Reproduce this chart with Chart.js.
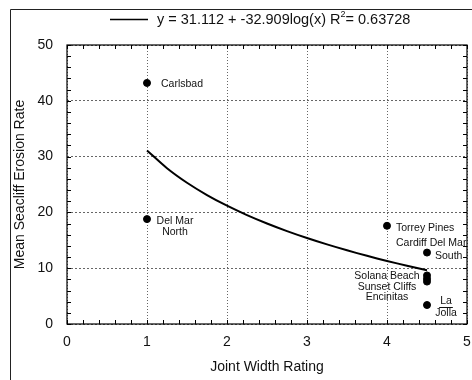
<!DOCTYPE html>
<html>
<head>
<meta charset="utf-8">
<script src="https://cdn.jsdelivr.net/npm/chart.js@4.4.1/dist/chart.umd.min.js"></script>
<style>
  html, body { margin: 0; padding: 0; background: #fff; }
  canvas { display: block; }
</style>
</head>
<body>
<canvas id="myChart" width="472" height="380"></canvas>
<script>
// sites and their measured values
var siteNames   = ['Carlsbad', 'Del Mar North', 'Torrey Pines', 'Cardiff Del Mar South',
                   'Solana Beach', 'Sunset Cliffs', 'Encinitas', 'La Jolla'];
var jointWidth  = [1, 1, 4, 4.5, 4.5, 4.5, 4.5, 4.5];
var erosionRate = [43.2, 18.8, 17.6, 12.8, 8.7, 8.1, 7.6, 3.4];

// log fit, y = a + b*log(x)
var fitIntercept = 31.112;
var fitSlope     = -32.909;
var fitR2        = 0.63728;
var fitX = [1, 1.25, 1.5, 1.75, 2, 2.25, 2.5, 2.75, 3, 3.25, 3.5, 3.75, 4, 4.25, 4.5];

var xTicks = [0, 1, 2, 3, 4, 5];
var yTicks = [0, 10, 20, 30, 40, 50];

// label text per point, one entry per line
var pointLabels = [
	['Carlsbad'], ['Del Mar', 'North'], ['Torrey Pines'], ['Cardiff Del Mar', 'South'],
	['Solana Beach'], ['Sunset Cliffs'], ['Encinitas'], ['La', 'Jolla']
];
// placement of each label line relative to its dot: [dx, dy]
var labelStyle = [
	{ align: 'left',   lines: [[14, 1]] },
	{ align: 'center', lines: [[28, 2], [28, 13]] },
	{ align: 'left',   lines: [[9, 2]] },
	{ align: 'left',   lines: [[-31, -9], [8, 4]] },
	{ align: 'center', lines: [[-40, 1]] },
	{ align: 'center', lines: [[-40, 8]] },
	{ align: 'center', lines: [[-40, 16]] },
	{ align: 'center', lines: [[19, -4], [19, 8]], underline: 0 }
];

var FONT = '"Liberation Sans", Arial, sans-serif';

var points = jointWidth.map((x, i) => ({ x: x, y: erosionRate[i] }));
var fitPoints = fitX.map(x => ({ x: x, y: fitIntercept + fitSlope * Math.log10(x) }));

var decor = {
	id: 'decor',
	beforeDraw(chart) {
		var c = chart.ctx;
		c.save();
		c.strokeStyle = '#222';
		c.lineWidth = 1;
		c.beginPath();
		c.moveTo(10.5, chart.height);
		c.lineTo(10.5, 9.5);
		c.lineTo(chart.width, 9.5);
		c.stroke();
		c.restore();
	},
	afterDatasetsDraw(chart) {
		var c = chart.ctx;
		var area = chart.chartArea;
		var xs = chart.scales.x, ys = chart.scales.y;
		c.save();

		// frame
		c.strokeStyle = '#000';
		c.lineWidth = 1.2;
		c.strokeRect(area.left, area.top, area.right - area.left, area.bottom - area.top);

		// inward minor ticks on all four sides
		c.lineWidth = 1;
		c.beginPath();
		for (var v = 0; v <= 5.001; v += 0.2) {
			var px = Math.round(xs.getPixelForValue(v)) + 0.5;
			c.moveTo(px, area.bottom); c.lineTo(px, area.bottom - 4);
			c.moveTo(px, area.top);    c.lineTo(px, area.top + 4);
		}
		for (var w = 0; w <= 50; w += 2) {
			var py = Math.round(ys.getPixelForValue(w)) + 0.5;
			c.moveTo(area.left, py);  c.lineTo(area.left + 4, py);
			c.moveTo(area.right, py); c.lineTo(area.right - 4, py);
		}
		c.stroke();

		// point labels
		c.fillStyle = '#111';
		c.strokeStyle = '#111';
		c.font = '10.5px ' + FONT;
		c.textBaseline = 'middle';
		var meta = chart.getDatasetMeta(1);
		meta.data.forEach((pt, i) => {
			var st = labelStyle[i];
			c.textAlign = st.align;
			pointLabels[i].forEach((line, k) => {
				var lx = pt.x + st.lines[k][0], ly = pt.y + st.lines[k][1];
				c.fillText(line, lx, ly);
				if (st.underline === k) {
					var half = c.measureText(line).width / 2 + 1;
					c.beginPath();
					c.moveTo(lx - half, Math.round(ly + 6) + 0.5);
					c.lineTo(lx + half, Math.round(ly + 6) + 0.5);
					c.stroke();
				}
			});
		});

		// legend for the fit line
		var ds = chart.data.datasets[0];
		c.strokeStyle = ds.borderColor;
		c.lineWidth = 1.5;
		c.beginPath();
		c.moveTo(110, 19.5); c.lineTo(148, 19.5);
		c.stroke();
		c.font = '14.5px ' + FONT;
		c.textAlign = 'left';
		var t1 = 'y = ' + fitIntercept + ' + ' + fitSlope + 'log(x) R';
		c.fillText(t1, 157, 20);
		var w1 = c.measureText(t1).width;
		c.font = '9px ' + FONT;
		c.fillText('2', 157 + w1, 15);
		c.font = '14.5px ' + FONT;
		c.fillText('= ' + fitR2, 157 + w1 + 5, 20);
		c.restore();
	}
};

var myChart = new Chart(document.getElementById('myChart'), {
	type: 'scatter',
	data: {
		datasets: [{
			type            : 'line',
			label           : 'fit',
			data            : fitPoints,
			borderColor     : '#000',
			borderWidth     : 2,
			pointRadius     : 0,
			fill            : false,
			tension         : 0.3
		},{
			label           : 'sites',
			data            : points,
			backgroundColor : '#000',
			borderColor     : '#000',
			pointRadius     : 3.5
		}]
	},
	plugins: [decor],
	options: {
		responsive : false,
		animation  : false,
		layout     : { padding: { top: 45, right: 4, left: 0, bottom: 0 } },
		plugins    : { legend: { display: false }, tooltip: { enabled: false } },
		scales: {
			x: {
				type : 'linear', min: 0, max: 5,
				afterFit : s => { s.height = 56; s.paddingLeft = 0; s.paddingRight = 0; },
				afterBuildTicks : s => { s.ticks = xTicks.map(v => ({ value: v })); },
				grid : { color: '#666', lineWidth: 1, drawTicks: false },
				border : { display: false, dash: [1, 2] },
				ticks : { color: '#111', padding: 10, font: { family: FONT, size: 14 } },
				title : { display: true, text: 'Joint Width Rating', color: '#111',
				          font: { family: FONT, size: 14 }, padding: { top: 4, bottom: 4 } }
			},
			y: {
				type : 'linear', min: 0, max: 50,
				afterFit : s => { s.width = 67; s.paddingTop = 0; s.paddingBottom = 0; },
				afterBuildTicks : s => { s.ticks = yTicks.map(v => ({ value: v })); },
				grid : { color: '#666', lineWidth: 1, drawTicks: false },
				border : { display: false, dash: [2, 2] },
				ticks : { color: '#111', padding: 14, font: { family: FONT, size: 14 } },
				title : { display: true, text: 'Mean Seacliff Erosion Rate', color: '#111',
				          font: { family: FONT, size: 14 }, padding: { top: 12, bottom: 4 } }
			}
		}
	}
});
</script>
</body>
</html>
